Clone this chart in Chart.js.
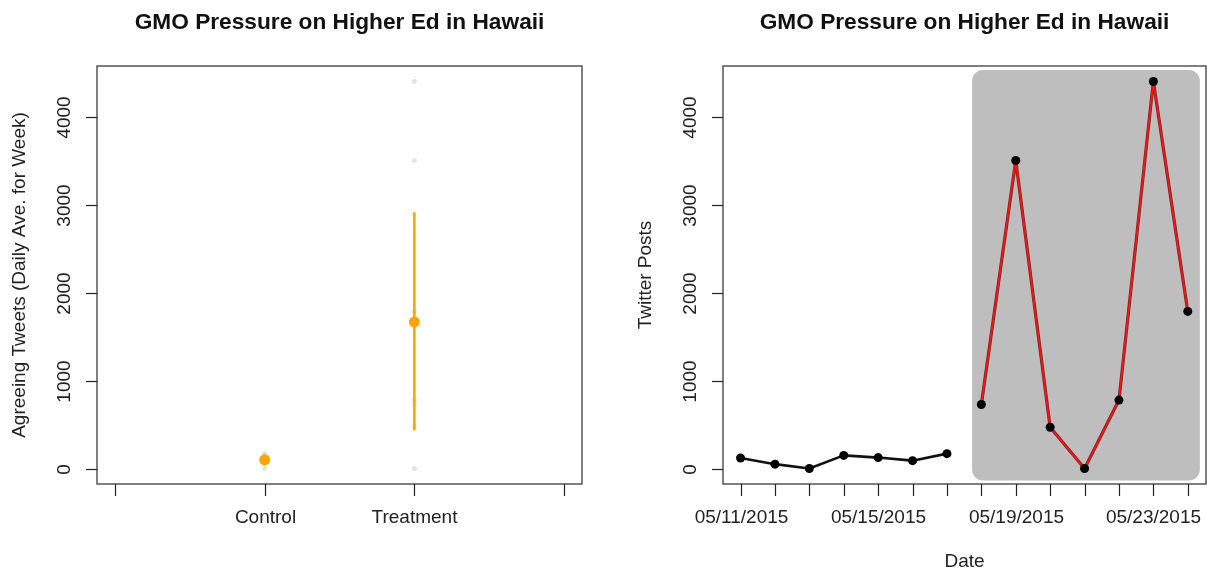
<!DOCTYPE html>
<html>
<head>
<meta charset="utf-8">
<script src="https://cdn.jsdelivr.net/npm/chart.js@4/dist/chart.umd.min.js"></script>
<style>
  html, body { margin: 0; padding: 0; background: #ffffff; }
  #wrap { position: relative; width: 1207px; height: 569px; overflow: hidden; }
  canvas { position: absolute; top: 0; }
  #left { left: 0; }
  #right { left: 603px; }
</style>
</head>
<body>
<div id="wrap">
  <canvas id="left" width="603" height="569"></canvas>
  <canvas id="right" width="604" height="569"></canvas>
</div>
<script>
// ---- data ----
const chartTitle = 'GMO Pressure on Higher Ed in Hawaii';
const dates = ['05/11/2015', '05/12/2015', '05/13/2015', '05/14/2015', '05/15/2015',
               '05/16/2015', '05/17/2015', '05/18/2015', '05/19/2015', '05/20/2015',
               '05/21/2015', '05/22/2015', '05/23/2015', '05/24/2015'];
const controlTweets = [120, 50, 0, 150, 125, 90, 170];        // 05/11 - 05/17
const treatmentTweets = [730, 3510, 470, 0, 780, 4410, 1790]; // 05/18 - 05/24
const groups = ['Control', 'Treatment'];
const groupMeans = [100, 1670];
const groupLow = [55, 435];
const groupHigh = [145, 2920];
const yTicks = [0, 1000, 2000, 3000, 4000];
const dateTickEvery = 4;

const FONT = '"Liberation Sans", Arial, Helvetica, sans-serif';
const ORANGE = '#ffa500';

// R-style frame: box, outward ticks, rotated y labels, titles
const rFrame = {
  id: 'rFrame',
  afterDraw(chart, args, o) {
    const { ctx, chartArea: a, scales } = chart;
    const xs = scales.x, ys = scales.y;
    ctx.save();
    ctx.fillStyle = '#111';
    ctx.font = 'bold 22.7px ' + FONT;
    ctx.textAlign = 'center';
    ctx.textBaseline = 'alphabetic';
    ctx.fillText(o.title, (a.left + a.right) / 2, 29);

    ctx.strokeStyle = '#555';
    ctx.lineWidth = 1.5;
    ctx.strokeRect(a.left, a.top, a.right - a.left, a.bottom - a.top);

    ctx.strokeStyle = '#222';
    ctx.lineWidth = 1.2;
    ctx.fillStyle = '#222';
    ctx.font = '19px ' + FONT;
    // y axis
    o.yTicks.forEach(v => {
      const py = Math.round(ys.getPixelForValue(v)) + 0.5;
      ctx.beginPath();
      ctx.moveTo(a.left, py);
      ctx.lineTo(a.left - 11, py);
      ctx.stroke();
      ctx.save();
      ctx.translate(a.left - 32, py);
      ctx.rotate(-Math.PI / 2);
      ctx.textAlign = 'center';
      ctx.textBaseline = 'middle';
      ctx.fillText(String(v), 0, 0);
      ctx.restore();
    });
    // x axis
    o.xTicks.forEach(t => {
      const px = Math.round(xs.getPixelForValue(t.v)) + 0.5;
      ctx.beginPath();
      ctx.moveTo(px, a.bottom);
      ctx.lineTo(px, a.bottom + 12);
      ctx.stroke();
      if (t.label) {
        ctx.textAlign = 'center';
        ctx.textBaseline = 'middle';
        ctx.fillText(t.label, px, 518);
      }
    });
    // axis titles
    if (o.yTitle) {
      ctx.save();
      ctx.translate(a.left - 77, (a.top + a.bottom) / 2);
      ctx.rotate(-Math.PI / 2);
      ctx.textAlign = 'center';
      ctx.textBaseline = 'middle';
      ctx.fillText(o.yTitle, 0, 0);
      ctx.restore();
    }
    if (o.xTitle) {
      ctx.textAlign = 'center';
      ctx.textBaseline = 'middle';
      ctx.fillText(o.xTitle, (a.left + a.right) / 2, 562);
    }
    ctx.restore();
  }
};

// rounded grey panel behind the post-campaign days
const shadePanel = {
  id: 'shadePanel',
  beforeDatasetsDraw(chart, args, o) {
    if (!o.on) return;
    const { ctx, scales } = chart;
    const x0 = scales.x.getPixelForValue(o.x0), x1 = scales.x.getPixelForValue(o.x1);
    const y0 = scales.y.getPixelForValue(o.y1), y1 = scales.y.getPixelForValue(o.y0);
    ctx.save();
    ctx.fillStyle = '#bebebe';
    ctx.beginPath();
    ctx.roundRect(x0, y0, x1 - x0, y1 - y0, 11);
    ctx.fill();
    ctx.restore();
  }
};

const yScale = { type: 'linear', min: -176, max: 4586, display: false };

// ---- left: group means with intervals ----
const rawPoints = [];
controlTweets.forEach(v => rawPoints.push({ x: 1, y: v }));
treatmentTweets.forEach(v => rawPoints.push({ x: 2, y: v }));

const leftSets = [{
  type: 'scatter', data: rawPoints, pointRadius: 2.5, borderWidth: 0, order: 3,
  backgroundColor: 'rgba(205,205,205,0.55)', pointBorderColor: 'rgba(0,0,0,0)'
}];
groups.forEach((g, i) => {
  leftSets.push({
    type: 'line', data: [{ x: i + 1, y: groupLow[i] }, { x: i + 1, y: groupHigh[i] }], order: 2,
    borderColor: i === 0 ? 'rgba(255,165,0,0.45)' : ORANGE, borderWidth: 2.6, pointRadius: 0
  });
});
leftSets.push({
  type: 'scatter', data: groupMeans.map((m, i) => ({ x: i + 1, y: m })), order: 1,
  pointRadius: 5.5, backgroundColor: ORANGE, borderColor: ORANGE, borderWidth: 0
});

new Chart(document.getElementById('left'), {
  type: 'scatter',
  data: { datasets: leftSets },
  options: {
    responsive: false, animation: false, devicePixelRatio: 1,
    layout: { autoPadding: false, padding: { left: 97, right: 21, top: 66, bottom: 85 } },
    scales: { x: { type: 'linear', min: -0.12, max: 3.12, display: false }, y: yScale },
    plugins: {
      legend: { display: false }, tooltip: { enabled: false },
      shadePanel: { on: false },
      rFrame: {
        title: chartTitle,
        yTitle: 'Agreeing Tweets (Daily Ave. for Week)',
        yTicks: yTicks,
        xTicks: [{ v: 0 }, { v: 1, label: groups[0] }, { v: 2, label: groups[1] }, { v: 3 }]
      }
    }
  },
  plugins: [shadePanel, rFrame]
});

// ---- right: daily posts ----
const preLen = controlTweets.length;
const prePts = controlTweets.map((v, i) => ({ x: i, y: v }));
const postPts = treatmentTweets.map((v, i) => ({ x: preLen + i, y: v }));

new Chart(document.getElementById('right'), {
  type: 'line',
  data: {
    datasets: [
      { data: prePts, order: 2, borderColor: '#111', borderWidth: 2.6, borderJoinStyle: 'round',
        pointRadius: 4.5, pointBackgroundColor: '#000', pointBorderColor: '#000', pointBorderWidth: 0 },
      { data: postPts, order: 1, borderColor: 'rgba(90,20,20,0.85)', borderWidth: 3.2,
        borderJoinStyle: 'round', pointRadius: 0 },
      { data: postPts, order: 0, borderColor: '#f01414', borderWidth: 2, borderJoinStyle: 'round',
        pointRadius: 4.5, pointBackgroundColor: '#000', pointBorderColor: '#000', pointBorderWidth: 0 }
    ]
  },
  options: {
    responsive: false, animation: false, devicePixelRatio: 1,
    layout: { autoPadding: false, padding: { left: 120, right: 1, top: 66, bottom: 85 } },
    scales: { x: { type: 'linear', min: -0.51, max: 13.53, display: false }, y: yScale },
    plugins: {
      legend: { display: false }, tooltip: { enabled: false },
      shadePanel: { on: true, x0: 6.73, x1: 13.35, y0: -135, y1: 4540 },
      rFrame: {
        title: chartTitle,
        yTitle: 'Twitter Posts',
        xTitle: 'Date',
        yTicks: yTicks,
        xTicks: dates.map((d, i) => ({ v: i, label: i % dateTickEvery === 0 ? d : '' }))
      }
    }
  },
  plugins: [shadePanel, rFrame]
});
</script>
</body>
</html>
